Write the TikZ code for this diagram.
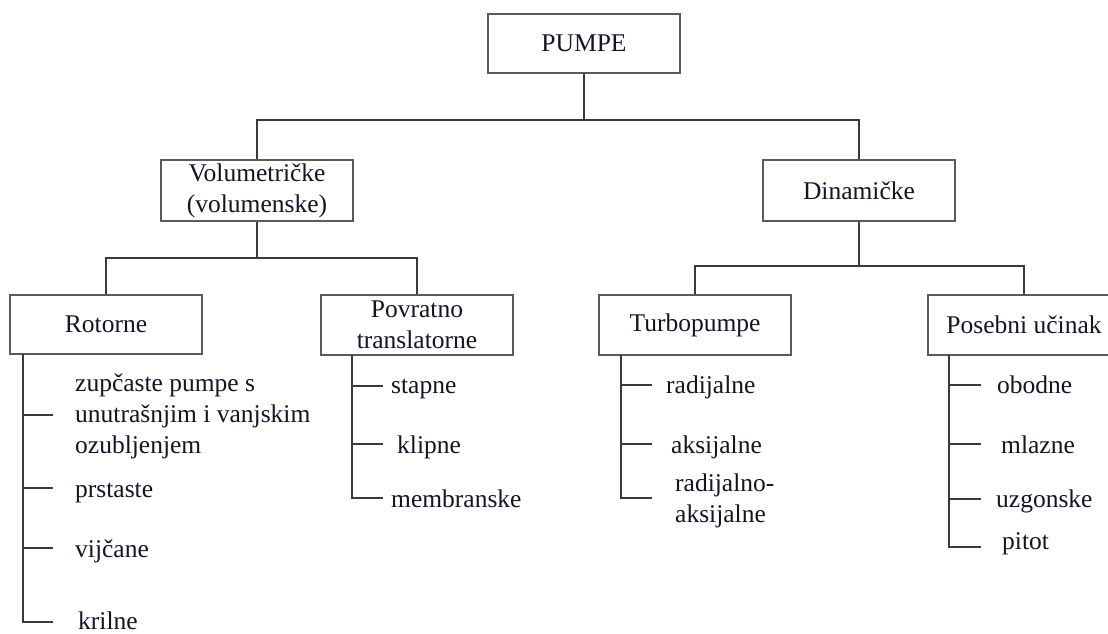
\documentclass[tikz,border=0pt]{standalone}
\usepackage{fontspec}
\setmainfont{Liberation Serif}
\definecolor{boxgray}{HTML}{5A5A5A}
\definecolor{lngray}{HTML}{3A3A3A}
\definecolor{txt}{HTML}{141428}
\begin{document}
\begin{tikzpicture}[x=1pt,y=-1pt,
  box/.style={draw=boxgray,line width=1.3pt,minimum width=192pt,inner sep=0pt,align=center,
    font=\fontsize{25.5}{31}\selectfont,text=txt},
  ln/.style={draw=lngray,line width=1.3pt},
  leaf/.style={anchor=base west,inner sep=0pt,align=left,font=\fontsize{25.5}{31}\selectfont,text=txt}]
\clip (0,0) rectangle (1108,633);
\fill[white] (0,0) rectangle (1108,633);
% boxes
\node[box,minimum height=59pt] (pumpe) at (584,43.5) {PUMPE};
\node[box,minimum height=61pt] (vol) at (257,190.5) {Volumetričke\\(volumenske)};
\node[box,minimum height=61pt] (din) at (859,190.5) {Dinamičke};
\node[box,minimum height=59pt] (rot) at (106,324.5) {Rotorne};
\node[box,minimum height=60pt] (pov) at (417,325) {Povratno\\translatorne};
\node[box,minimum height=60pt] (tur) at (695,325) {Turbopumpe};
\node[box,minimum height=60pt] (pos) at (1024,325) {Posebni učinak};
% junctions
\coordinate (j1) at (584,120);
\coordinate (j2) at (257,258);
\coordinate (j3) at (859,266);
\draw[ln] (pumpe.south) -- (j1);
\draw[ln] (vol.north) |- (j1) -| (din.north);
\draw[ln] (vol.south) -- (j2);
\draw[ln] (rot.north) |- (j2) -| (pov.north);
\draw[ln] (din.south) -- (j3);
\draw[ln] (tur.north) |- (j3) -| (pos.north);
% leaves
\node[leaf] (z1) at (75,453) {zupčaste pumpe s\\unutrašnjim i vanjskim\\ozubljenjem};
\node[leaf] (z2) at (75,497) {prstaste};
\node[leaf] (z3) at (75,557) {vijčane};
\node[leaf] (z4) at (78,629) {krilne};
\node[leaf] (p1) at (391,393) {stapne};
\node[leaf] (p2) at (397,453) {klipne};
\node[leaf] (p3) at (391,507) {membranske};
\node[leaf] (t1) at (666,393) {radijalne};
\node[leaf] (t2) at (671,453) {aksijalne};
\node[leaf] (t3) at (675,522) {radijalno-\\aksijalne};
\node[leaf] (s1) at (997,393) {obodne};
\node[leaf] (s2) at (1001,453) {mlazne};
\node[leaf] (s3) at (996,507) {uzgonske};
\node[leaf] (s4) at (1002,549) {pitot};
% trunks and ticks
\coordinate (rt) at (23,354);
\coordinate (pt) at (352,355);
\coordinate (tt) at (621,355);
\coordinate (st) at (949,355);
\draw[ln] (rt) |- (53,622);
\draw[ln] (23,415) -- (53,415);
\draw[ln] (23,488) -- (53,488);
\draw[ln] (23,548) -- (53,548);
\draw[ln] (pt) |- (383,498);
\draw[ln] (352,386) -- (383,386);
\draw[ln] (352,444) -- (383,444);
\draw[ln] (tt) |- (652,498);
\draw[ln] (621,385) -- (652,385);
\draw[ln] (621,444) -- (652,444);
\draw[ln] (st) |- (981,547);
\draw[ln] (949,385) -- (981,385);
\draw[ln] (949,444) -- (981,444);
\draw[ln] (949,499) -- (981,499);
\end{tikzpicture}
\end{document}
